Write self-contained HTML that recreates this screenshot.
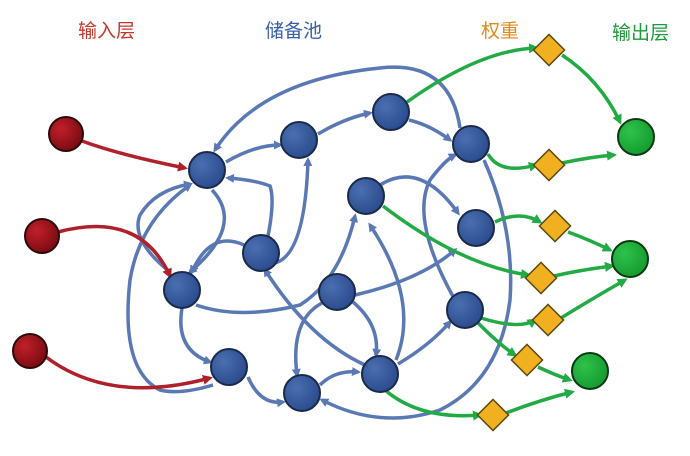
<!DOCTYPE html>
<html><head><meta charset="utf-8"><style>
body{margin:0;background:#fff;width:690px;height:451px;overflow:hidden}
text{font-family:"Liberation Sans","Noto Sans CJK SC",sans-serif;font-size:19px}
</style></head><body>
<svg width="690" height="451" viewBox="0 0 690 451" xmlns="http://www.w3.org/2000/svg">
<defs>
<marker id="ab" markerWidth="9" markerHeight="9" refX="6" refY="4.5" orient="auto" markerUnits="userSpaceOnUse" viewBox="0 0 9 9"><path d="M0,0 L9,4.5 L0,9 z" fill="#5a78b4"/></marker>
<marker id="ar" markerWidth="10" markerHeight="10" refX="7" refY="5" orient="auto" markerUnits="userSpaceOnUse" viewBox="0 0 10 10"><path d="M0,0 L10,5 L0,10 z" fill="#b0202a"/></marker>
<marker id="ag" markerWidth="10" markerHeight="10" refX="7" refY="5" orient="auto" markerUnits="userSpaceOnUse" viewBox="0 0 10 10"><path d="M0,0 L10,5 L0,10 z" fill="#22aa44"/></marker>
<radialGradient id="gb" cx="35%" cy="35%" r="70%"><stop offset="0" stop-color="#4a6fb0"/><stop offset="1" stop-color="#2a4a8c"/></radialGradient>
<radialGradient id="gr" cx="35%" cy="35%" r="70%"><stop offset="0" stop-color="#c0202a"/><stop offset="1" stop-color="#7a0a12"/></radialGradient>
<radialGradient id="gg" cx="35%" cy="35%" r="70%"><stop offset="0" stop-color="#2ec24a"/><stop offset="1" stop-color="#159a30"/></radialGradient>
</defs>
<text x="78" y="37" fill="#c0392b">输入层</text>
<text x="265" y="37" fill="#3a5ea8">储备池</text>
<text x="481" y="37" fill="#e08a1e">权重</text>
<text x="612" y="39" fill="#1e9a3a">输出层</text>
<g fill="none" stroke="#5a78b4" stroke-width="3.5" marker-end="url(#ab)">
<path d="M226,162 Q255,145 280,145"/>
<path d="M318,134 Q345,118 370,113"/>
<path d="M409,120 Q430,125 450,140"/>
<path d="M460,128 Q450,60 380,68 Q260,80 215,150"/>
<path d="M484,160 Q515,230 510,300 Q500,380 440,410 Q380,430 322,400"/>
<path d="M268,236 Q275,200 270,186 Q255,180 228,178"/>
<path d="M275,263 Q305,255 308,160"/>
<path d="M212,190 Q245,225 190,272"/>
<path d="M244,245 Q210,230 192,272"/>
<path d="M170,272 Q130,240 140,215 Q155,190 190,184"/>
<path d="M196,305 Q240,320 300,305 Q340,280 355,216"/>
<path d="M182,308 Q175,350 210,362"/>
<path d="M248,377 Q260,405 283,402"/>
<path d="M320,385 Q335,370 358,372"/>
<path d="M398,364 Q430,345 450,322"/>
<path d="M396,360 Q420,300 370,225"/>
<path d="M353,302 Q380,325 376,355"/>
<path d="M322,303 Q290,320 297,375"/>
<path d="M365,365 Q310,340 265,270"/>
<path d="M355,295 Q420,280 455,250"/>
<path d="M380,185 Q420,160 458,213"/>
<path d="M455,300 Q410,220 430,180 Q445,160 455,155"/>
<path d="M213,385 Q180,395 160,390 Q120,370 130,280 Q140,220 190,185"/>
</g>
<g fill="none" stroke="#b0202a" stroke-width="3.5" marker-end="url(#ar)">
<path d="M82,141 Q120,155 185,168"/>
<path d="M58,232 Q140,210 170,276"/>
<path d="M46,357 Q110,405 210,378"/>
</g>
<g fill="none" stroke="#22aa44" stroke-width="3.5" marker-end="url(#ag)">
<path d="M407,102 Q480,50 536,48"/>
<path d="M562,55 Q600,80 620,122"/>
<path d="M488,154 Q500,175 536,165"/>
<path d="M562,163 Q590,157 614,155"/>
<path d="M383,206 Q460,265 528,275"/>
<path d="M495,222 Q520,210 540,222"/>
<path d="M568,232 Q590,240 610,250"/>
<path d="M554,276 Q580,270 612,266"/>
<path d="M481,318 Q520,330 535,320"/>
<path d="M561,318 Q590,300 625,280"/>
<path d="M478,323 Q500,345 515,355"/>
<path d="M538,367 Q555,375 570,380"/>
<path d="M385,390 Q420,420 480,415"/>
<path d="M506,413 Q540,400 572,392"/>
</g>
<g stroke="#1a2a4a" stroke-width="2" fill="url(#gb)">
<circle cx="207" cy="170" r="18"/><circle cx="299" cy="140" r="18"/><circle cx="391" cy="112" r="18"/>
<circle cx="471" cy="144" r="18"/><circle cx="366" cy="196" r="18"/><circle cx="476" cy="228" r="18"/>
<circle cx="261" cy="253" r="18"/><circle cx="182" cy="290" r="18"/><circle cx="337" cy="292" r="18"/>
<circle cx="465" cy="310" r="18"/><circle cx="229" cy="367" r="18"/><circle cx="302" cy="393" r="18"/>
<circle cx="380" cy="374" r="18"/>
</g>
<g stroke="#2a0a0a" stroke-width="2" fill="url(#gr)">
<circle cx="66" cy="134" r="17"/><circle cx="42" cy="236" r="17"/><circle cx="30" cy="351" r="17"/>
</g>
<g stroke="#0a3a14" stroke-width="2" fill="url(#gg)">
<circle cx="636" cy="137" r="18"/><circle cx="630" cy="259" r="18"/><circle cx="590" cy="371" r="18"/>
</g>
<g stroke="#5a4a10" stroke-width="1.5" fill="#f0b020">
<rect x="-11" y="-11" width="22" height="22" transform="translate(549,50) rotate(45)"/>
<rect x="-11" y="-11" width="22" height="22" transform="translate(549,165) rotate(45)"/>
<rect x="-11" y="-11" width="22" height="22" transform="translate(555,226) rotate(45)"/>
<rect x="-11" y="-11" width="22" height="22" transform="translate(541,278) rotate(45)"/>
<rect x="-11" y="-11" width="22" height="22" transform="translate(548,320) rotate(45)"/>
<rect x="-11" y="-11" width="22" height="22" transform="translate(527,360) rotate(45)"/>
<rect x="-11" y="-11" width="22" height="22" transform="translate(493,415) rotate(45)"/>
</g>
</svg>
</body></html>
